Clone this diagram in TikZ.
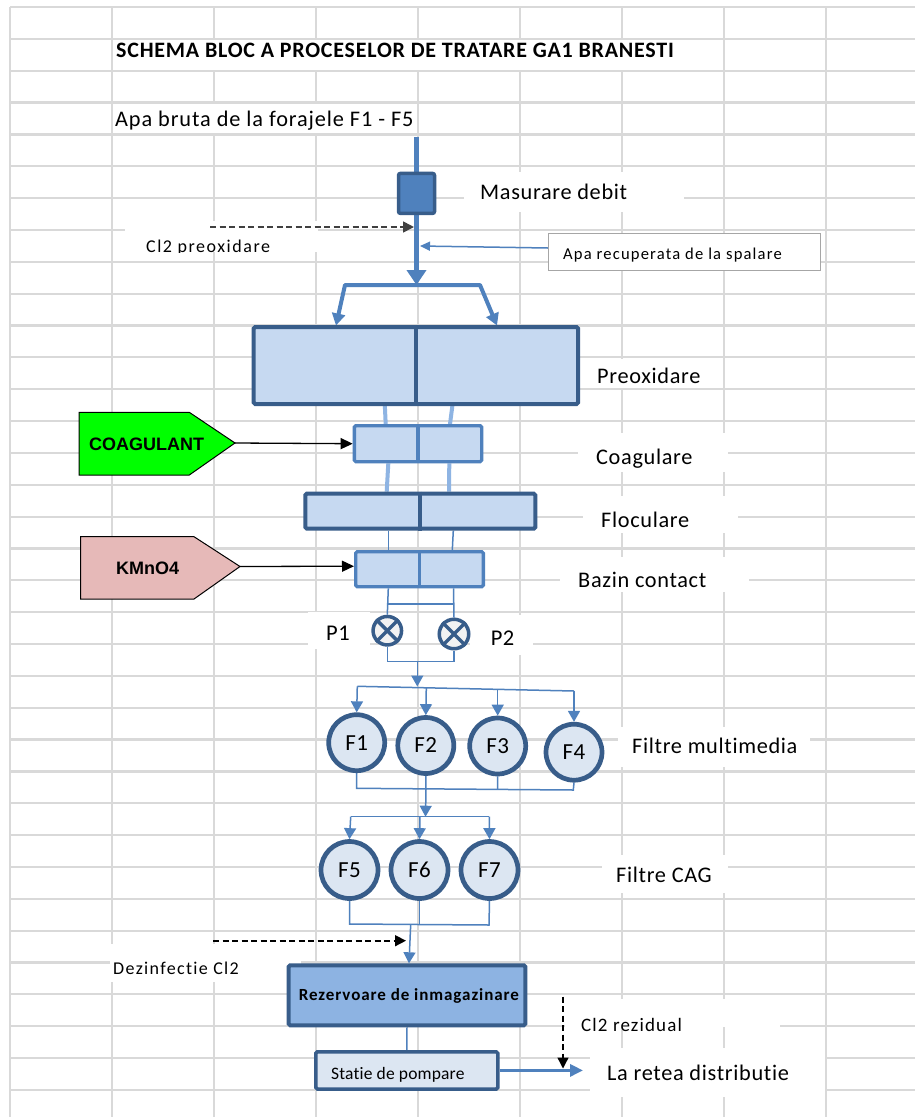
\documentclass[tikz,border=0pt]{standalone}
\usepackage{fontspec}
\setmainfont{Carlito}[Ligatures={NoCommon}]
\newfontfamily\arialfam{Liberation Sans}
\usetikzlibrary{arrows.meta}
\definecolor{pipec}{HTML}{4F81BD}
\definecolor{edgec}{HTML}{385D8A}
\definecolor{fillA}{HTML}{C6D9F1}
\definecolor{fillB}{HTML}{DCE6F2}
\definecolor{linkc}{HTML}{8EB4E3}
\definecolor{rezf}{HTML}{8DB3E2}
\definecolor{gridc}{HTML}{D9D9D9}
\definecolor{pumpf}{HTML}{F2F2F2}
\definecolor{greenf}{HTML}{00FF00}
\definecolor{pinkf}{HTML}{E6B9B8}
\definecolor{recb}{HTML}{A6A6A6}
% font size (px) and tracking
\newcommand\ftxt[2]{\fontsize{#1}{#1}\selectfont\addfontfeatures{LetterSpace=#2}}
\pgfdeclarelayer{gridlayer}
\pgfdeclarelayer{linklayer}
\pgfsetlayers{gridlayer,linklayer,main}
\begin{document}
\begin{tikzpicture}[x=1pt,y=-1pt,
  gridline/.style={draw=gridc, line width=2.2pt},
  mask/.style={fill=white},
  pipeA/.style={draw=pipec, line width=5pt},
  pipeB/.style={draw=pipec, line width=4pt, line join=round},
  thinlink/.style={draw=pipec, line width=1.5pt},
  lightlink/.style={draw=linkc, line width=4pt},
  tri/.style={-{Triangle[length=11pt,width=12pt]}},
  dashlink/.style={draw=black, line width=1.6pt, dash pattern=on 6pt off 3.5pt, -{Triangle[length=11pt,width=11pt]}},
  blackarrow/.style={draw=black, line width=1.3pt, -{Triangle[length=12pt,width=11pt]}},
  tankD/.style={draw=edgec, line width=4pt, fill=fillA, rounded corners=1.5pt, inner sep=0pt},
  tankM/.style={draw=pipec, line width=3.3pt, fill=fillA, rounded corners=1.5pt, inner sep=0pt},
  filt/.style={circle, draw=edgec, line width=4.7pt, fill=fillB, inner sep=0pt, font={\ftxt{23}{2}}},
  pumpc/.style={circle, draw=edgec, line width=3.5pt, fill=pumpf, inner sep=0pt, minimum size=28.5pt},
  pumpx/.style={draw=edgec, line width=3.5pt},
  lab/.style={inner sep=0pt, anchor=base west, font={\ftxt{22.3}{3}}},
  smalllab/.style={inner sep=0pt, anchor=base west},
  signaltxt/.style={inner sep=0pt, anchor=base west, font={\arialfam\bfseries\fontsize{18}{18}\selectfont}}
]
\useasboundingbox (0,0) rectangle (915,1117);

% ---------- worksheet grid ----------
\begin{pgfonlayer}{gridlayer}
\fill[white] (0,0) rectangle (915,1117);
\foreach \j in {0,...,8} \draw[gridline] ({10+102*\j},7) -- ({10+102*\j},1117);
\foreach \k in {0,...,34} \draw[gridline] (10,{7+31.85*\k}) -- (915,{7+31.85*\k});
% cells and text boxes that hide the grid
\fill[mask] (113.2,40.2) rectangle (722.8,69.5);
\fill[mask] (113.2,103.7) rectangle (416.8,133.2);
\fill[mask] (464,172) rectangle (684,212);
\fill[mask] (125,221) rectangle (318,252);
\fill[mask] (590,359) rectangle (712,388);
\fill[mask] (578,433) rectangle (728,472);
\fill[mask] (583,496) rectangle (738,533);
\fill[mask] (560,557) rectangle (749,592);
\fill[mask] (308,612) rectangle (370,649);
\fill[mask] (470,615) rectangle (533,655);
\fill[mask] (618,727) rectangle (810,767);
\fill[mask] (602,855) rectangle (728,893);
\fill[mask] (110,944) rectangle (301,982);
\fill[mask] (565,999) rectangle (780,1027);
\fill[mask] (590,1048) rectangle (824.8,1097);
\end{pgfonlayer}

% ---------- titles ----------
\node[lab, font={\bfseries\ftxt{22}{3.5}}] (title) at (116,57) {SCHEMA BLOC A PROCESELOR DE TRATARE GA1 BRANESTI};
\node[lab, font={\ftxt{22.3}{4}}] (raw) at (115,126) {Apa bruta de la forajele F1 - F5};

% ---------- intake and flow meter ----------
\coordinate (src) at (416.5,137);
\node[draw=edgec, line width=3.5pt, fill=pipec, rounded corners=2pt, inner sep=0pt,
      minimum width=36pt, minimum height=40pt] (meas) at (416.5,193.4) {};
\node[lab] (meastxt) at (480,199.5) {Masurare debit};
\coordinate (inj1) at (414,227);
\coordinate (cl1) at (210,227);
\coordinate (recin) at (420,246);
\coordinate (split) at (416.5,285);
\coordinate (bl) at (345,285);
\coordinate (br) at (480,285);
\coordinate (pinL) at (336,325.5);
\coordinate (pinR) at (497,325.5);

\node[draw=recb, line width=1pt, fill=white, inner sep=0pt, minimum width=272pt, minimum height=37pt] (rec) at (684.5,251.5) {};
\node[smalllab, font={\ftxt{16.6}{7}}] (rectxt) at (563,259) {Apa recuperata de la spalare};

\begin{scope}
\clip (120,215) rectangle (320,252.8);
\node[smalllab, font={\ftxt{18}{8.5}}] (cl1txt) at (146,252) {Cl2 preoxidare};
\end{scope}

% ---------- basins ----------
\node[tankD, minimum width=324.3pt, minimum height=77pt] (preox) at (415.85,365.5) {};
\draw[edgec, line width=4pt] (preox.north) -- (preox.south);
\node[tankM, minimum width=127.3pt, minimum height=36pt] (coag) at (418,443.7) {};
\draw[pipec, line width=3.3pt] (coag.north) -- (coag.south);
\node[tankD, minimum width=230pt, minimum height=35pt] (floc) at (420.3,511.2) {};
\draw[edgec, line width=4pt] (floc.north) -- (floc.south);
\node[tankM, minimum width=127.7pt, minimum height=35pt] (bazin) at (419.5,569.2) {};
\draw[pipec, line width=3.3pt] (bazin.north) -- (bazin.south);

\node[lab] (preoxtxt) at (597,383) {Preoxidare};
\node[lab] (coagtxt) at (596,464) {Coagulare};
\node[lab] (floctxt) at (601,527) {Floculare};
\node[lab] (bazintxt) at (578,587) {Bazin contact};

% ---------- reagent dosing ----------
\draw[black, line width=1pt, fill=greenf] (79,412.3) -- (189.3,412.3) -- (235,443) -- (189.3,475) -- (79,475) -- cycle;
\node[signaltxt] (coagulant) at (89,450) {COAGULANT};
\coordinate (coagtip) at (235,443);
\draw[black, line width=1pt, fill=pinkf] (80.7,536.7) -- (194,536.7) -- (240,566.5) -- (194,599) -- (80.7,599) -- cycle;
\node[signaltxt] (kmno) at (116,574) {KMnO4};
\coordinate (kmnotip) at (240,566.5);

% ---------- pumps ----------
\node[pumpc] (P1) at (387.3,630.7) {};
\node[pumpc, minimum size=29.5pt] (P2) at (454,634) {};
\foreach \p in {P1,P2} {
  \draw[pumpx] (\p.north west) -- (\p.south east);
  \draw[pumpx] (\p.north east) -- (\p.south west);
}
\node[lab, font={\ftxt{22.5}{2}}] (p1txt) at (326,640) {P1};
\node[lab, font={\ftxt{22.5}{2}}] (p2txt) at (490.7,645) {P2};
\coordinate (jL) at (388.3,604);
\coordinate (jR) at (453.6,604);
\coordinate (j1) at (387.3,661.7);
\coordinate (j2) at (454,661.7);
\coordinate (j3) at (417.3,661.7);

% ---------- multimedia filters ----------
\node[filt, minimum size=56pt] (F1) at (356.7,742.7) {F1};
\node[filt, minimum size=56pt] (F2) at (425.8,745.5) {F2};
\node[filt, minimum size=56pt] (F3) at (497.7,746) {F3};
\node[filt, minimum size=56pt] (F4) at (574,752.2) {F4};
\node[lab] (mmtxt) at (632,753) {Filtre multimedia};
\coordinate (b1a) at (357.3,686.3);
\coordinate (b1b) at (426.3,687.8);
\coordinate (b1c) at (497.7,689.3);
\coordinate (b1d) at (574,691);
\coordinate (b1m) at (417.3,686.5);
\coordinate (c1a) at (356.7,788.3);
\coordinate (c1b) at (426,789);
\coordinate (c1c) at (497.5,789.5);
\coordinate (c1d) at (573.3,790);

% ---------- activated carbon filters ----------
\node[filt, minimum size=57pt] (F5) at (349.5,870) {F5};
\node[filt, minimum size=57pt] (F6) at (419.5,870) {F6};
\node[filt, minimum size=57pt] (F7) at (489.5,870) {F7};
\node[lab] (cagtxt) at (616,882) {Filtre CAG};
\coordinate (b2a) at (350.7,816.7);
\coordinate (b2b) at (420,816.7);
\coordinate (b2c) at (489.3,816.7);
\coordinate (b2m) at (425.5,816.7);
\coordinate (c2a) at (349.5,924);
\coordinate (c2b) at (419.5,924.4);
\coordinate (c2c) at (489,925);
\coordinate (c2m) at (410.7,924.3);

% ---------- storage and pumping ----------
\node[draw=edgec, line width=4pt, fill=rezf, rounded corners=1.5pt, inner sep=0pt,
      minimum width=236.7pt, minimum height=60pt] (rez) at (407,995.3) {};
\node[inner sep=0pt, anchor=base, font={\bfseries\ftxt{17}{5.5}}] (reztxt) at (409,1000) {Rezervoare de inmagazinare};
\node[draw=edgec, line width=3.5pt, fill=fillB, rounded corners=1.5pt, inner sep=0pt,
      minimum width=182pt, minimum height=37.2pt] (stat) at (406.8,1070.4) {};
\node[smalllab, font={\ftxt{17.5}{1}}] (stattxt) at (331,1079) {Statie de pompare};
\coordinate (dz0) at (213,940.7);
\coordinate (dz1) at (406,940.7);
\node[smalllab, font={\ftxt{18}{7.5}}] (dztxt) at (113,974) {Dezinfectie Cl2};
\coordinate (rz0) at (563,996.7);
\coordinate (rz1) at (563,1068.5);
\node[smalllab, font={\ftxt{19}{6}}] (rztxt) at (581,1031) {Cl2 rezidual};
\coordinate (out) at (583,1070.4);
\node[lab, font={\ftxt{22.3}{3}}] (outtxt) at (607,1080) {La retea distributie};

% ---------- connectors ----------
\begin{pgfonlayer}{linklayer}
\draw[pipeA] (src) -- (meas.north);
\draw[pipeA, -{Triangle[length=15pt,width=19pt]}] (meas.south) -- (split);
\draw[pipeB, {Triangle[length=12pt,width=13pt]}-{Triangle[length=12pt,width=13pt]}] (pinL) -- (bl) -- (br) -- (pinR);
\draw[dashlink, draw=black!75] (cl1) -- (inj1);
\draw[thinlink, -{Triangle[length=10pt,width=9pt]}] ([yshift=3.5pt]rec.west) -- (recin);

\draw[lightlink] ([xshift=-31pt]preox.south) -- ([xshift=-32.3pt]coag.north);
\draw[lightlink] ([xshift=36.5pt]preox.south) -- ([xshift=32pt]coag.north);
\draw[lightlink] ([xshift=-29.7pt]coag.south) -- ([xshift=-33.6pt]floc.north);
\draw[lightlink] ([xshift=31.3pt]coag.south) -- ([xshift=28.7pt]floc.north);
\draw[thinlink] ([xshift=-32pt]floc.south) -- ([xshift=-31.2pt]bazin.north);
\draw[thinlink] ([xshift=33pt]floc.south) -- ([xshift=32.8pt]bazin.north);

\draw[blackarrow] (coagtip) -- (coag.west);
\draw[blackarrow] (kmnotip) -- ([yshift=3pt]bazin.west);

\draw[thinlink] ([xshift=-31.2pt]bazin.south) -- (P1.north);
\draw[thinlink] ([xshift=34pt]bazin.south) -- (P2.north);
\draw[thinlink] (jL) -- (jR);
\draw[thinlink] (P1.south) -- (j1) -- (j2) -- (P2.south);
\draw[thinlink, tri] (j3) -- (b1m);

\draw[thinlink] (b1a) -- (b1d);
\draw[thinlink, tri] (b1a) -- (F1.north);
\draw[thinlink, tri] (b1b) -- (F2.north);
\draw[thinlink, tri] (b1c) -- (F3.north);
\draw[thinlink, tri] (b1d) -- (F4.north);
\draw[thinlink] (F1.south) -- (c1a) -- (c1d) -- (F4.south);
\draw[thinlink] (F2.south) -- (c1b);
\draw[thinlink] (F3.south) -- (c1c);
\draw[thinlink, tri] (c1b) -- (b2m);

\draw[thinlink] (b2a) -- (b2c);
\draw[thinlink, tri] (b2a) -- (F5.north);
\draw[thinlink, tri] (b2b) -- (F6.north);
\draw[thinlink, tri] (b2c) -- (F7.north);
\draw[thinlink] (F5.south) -- (c2a) -- (c2c) -- (F7.south);
\draw[thinlink] (F6.south) -- (c2b);
\draw[thinlink, tri] (c2m) -- ([xshift=2pt]rez.north);

\draw[dashlink] (dz0) -- (dz1);
\draw[thinlink] (rez.south) -- (stat.north);
\draw[draw=pipec, line width=3.2pt, -{Triangle[length=13pt,width=12pt]}] (stat.east) -- (out);
\draw[dashlink, line width=1.3pt] (rz0) -- (rz1);
\end{pgfonlayer}
\end{tikzpicture}
\end{document}
